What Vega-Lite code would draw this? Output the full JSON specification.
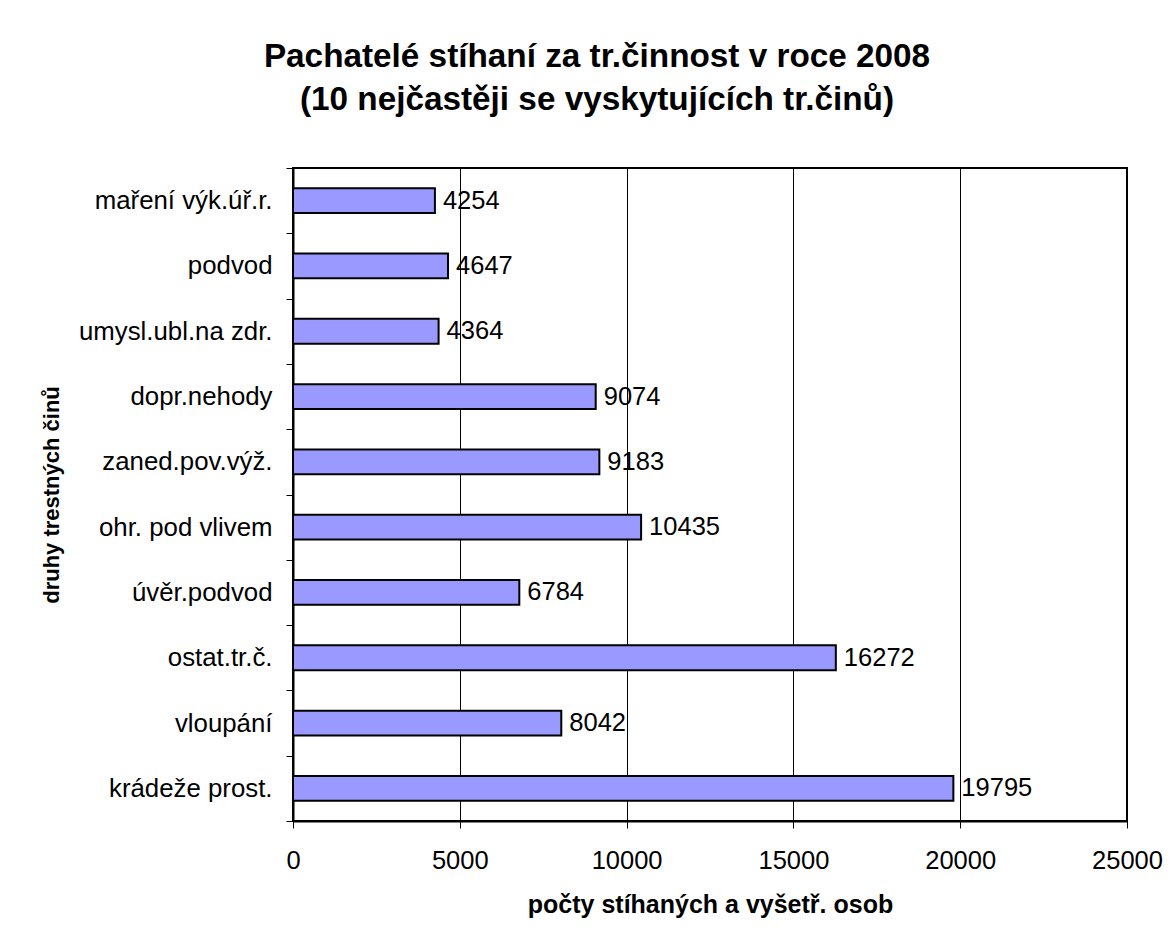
{
  "$schema": "https://vega.github.io/schema/vega-lite/v6.json",
  "width": 834,
  "height": 653,
  "autosize": {"type": "none"},
  "padding": {"left": 293, "top": 168, "right": 47, "bottom": 121},
  "background": "white",
  "config": {
    "font": "Liberation Sans",
    "view": {"stroke": "black", "strokeWidth": 2}
  },
  "title": {
    "text": ["Pachatelé stíhaní za tr.činnost v roce 2008", "(10 nejčastěji se vyskytujících tr.činů)"],
    "font": "Liberation Sans",
    "fontSize": 33.3,
    "fontWeight": "bold",
    "color": "black",
    "anchor": "middle",
    "frame": "group",
    "dx": -113,
    "lineHeight": 43,
    "offset": 38
  },
  "data": {
    "values": [
      {"cin": "maření výk.úř.r.", "pocet": 4254},
      {"cin": "podvod", "pocet": 4647},
      {"cin": "umysl.ubl.na zdr.", "pocet": 4364},
      {"cin": "dopr.nehody", "pocet": 9074},
      {"cin": "zaned.pov.výž.", "pocet": 9183},
      {"cin": "ohr. pod vlivem", "pocet": 10435},
      {"cin": "úvěr.podvod", "pocet": 6784},
      {"cin": "ostat.tr.č.", "pocet": 16272},
      {"cin": "vloupání", "pocet": 8042},
      {"cin": "krádeže prost.", "pocet": 19795}
    ]
  },
  "encoding": {
    "y": {
      "field": "cin",
      "type": "nominal",
      "sort": null,
      "scale": {"paddingInner": 0, "paddingOuter": 0},
      "axis": {
        "title": "druhy trestných činů",
        "titleFont": "Liberation Sans",
        "titleFontSize": 22,
        "titleFontWeight": "bold",
        "titleColor": "black",
        "titlePadding": 30,
        "labelFont": "Liberation Sans",
        "labelFontSize": 25.8,
        "labelColor": "black",
        "labelPadding": 14,
        "labelLimit": 0,
        "tickBand": "extent",
        "tickColor": "black",
        "tickSize": 7,
        "tickWidth": 1,
        "domainColor": "black",
        "domainWidth": 2,
        "grid": false
      }
    },
    "x": {
      "field": "pocet",
      "type": "quantitative",
      "scale": {"domain": [0, 25000], "nice": false},
      "axis": {
        "title": "počty stíhaných a vyšetř. osob",
        "titleFont": "Liberation Sans",
        "titleFontSize": 25,
        "titleFontWeight": "bold",
        "titleColor": "black",
        "titlePadding": 19,
        "values": [0, 5000, 10000, 15000, 20000, 25000],
        "format": "d",
        "labelFont": "Liberation Sans",
        "labelFontSize": 25.5,
        "labelColor": "black",
        "labelPadding": 20,
        "labelFlush": false,
        "tickColor": "black",
        "tickSize": 7,
        "tickWidth": 1,
        "domainColor": "black",
        "domainWidth": 2,
        "grid": true,
        "gridColor": "black",
        "gridWidth": 1
      }
    }
  },
  "layer": [
    {
      "mark": {"type": "bar", "height": {"band": 0.38}, "fill": "#9999FF", "stroke": "black", "strokeWidth": 2}
    },
    {
      "mark": {"type": "text", "align": "left", "baseline": "middle", "dx": 8, "fontSize": 25.5, "font": "Liberation Sans", "color": "black"},
      "encoding": {"text": {"field": "pocet", "type": "quantitative", "format": "d"}}
    }
  ]
}
